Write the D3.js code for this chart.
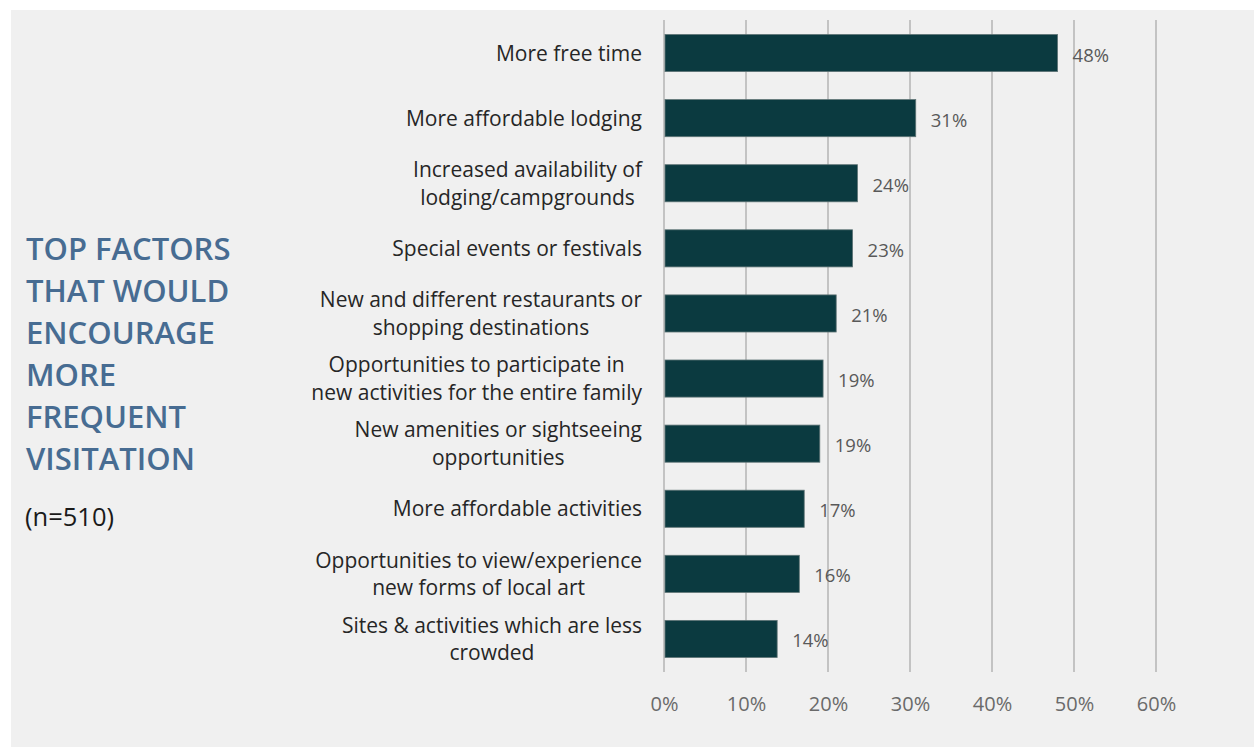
<!DOCTYPE html>
<html>
<head>
<meta charset="utf-8">
<script src="https://cdn.jsdelivr.net/npm/d3@7"></script>
<style>
  html, body { margin: 0; padding: 0; background: #ffffff; }
  svg { display: block; }
</style>
</head>
<body>
<svg id="chart" width="1254" height="747"></svg>
<script>
// ---- data ----
const categories = [
  ["More free time"],
  ["More affordable lodging"],
  ["Increased availability of", "lodging/campgrounds"],
  ["Special events or festivals"],
  ["New and different restaurants or", "shopping destinations"],
  ["Opportunities to participate in", "new activities for the entire family"],
  ["New amenities or sightseeing", "opportunities"],
  ["More affordable activities"],
  ["Opportunities to view/experience", "new forms of local art"],
  ["Sites & activities which are less", "crowded"]
];
const values = [48.0, 30.7, 23.6, 23.0, 21.0, 19.4, 19.0, 17.1, 16.5, 13.8];
const valueLabels = ["48%", "31%", "24%", "23%", "21%", "19%", "19%", "17%", "16%", "14%"];
const xTicks = [0, 10, 20, 30, 40, 50, 60];
const titleLines = ["TOP FACTORS", "THAT WOULD", "ENCOURAGE", "MORE", "FREQUENT", "VISITATION"];
const sampleNote = "(n=510)";

// ---- layout ----
const W = 1254, H = 747;
const svg = d3.select("#chart");
const font = "'Open Sans', 'Liberation Sans', sans-serif";

svg.append("rect").attr("x", 11).attr("y", 10).attr("width", W - 11).attr("height", H - 10)
  .attr("fill", "#f0f0f0");

const x = d3.scaleLinear().domain([0, 60]).range([664, 1156]);
const y = d3.scaleBand().domain(d3.range(categories.length)).range([20.5, 671.5])
  .paddingInner(0.43).paddingOuter(0.215);

// gridlines
svg.append("g").selectAll("line").data(xTicks).join("line")
  .attr("x1", d => x(d)).attr("x2", d => x(d))
  .attr("y1", 20).attr("y2", 672)
  .attr("stroke", "#c3c3c3").attr("stroke-width", 2);

// x axis labels
const xAxis = d3.axisBottom(x).tickValues(xTicks).tickFormat(d => d + "%").tickSize(0).tickPadding(0);
const gx = svg.append("g").attr("transform", "translate(0,690)").call(xAxis);
gx.select(".domain").remove();
gx.selectAll("text").attr("font-family", font).attr("font-size", 20)
  .attr("fill", "#6a6a6a").attr("dy", 0).attr("y", 20.5);

// bars
svg.append("g").selectAll("rect").data(values).join("rect")
  .attr("x", x(0) + 1)
  .attr("y", (d, i) => y(i))
  .attr("width", d => x(d) - x(0) - 1)
  .attr("height", y.bandwidth())
  .attr("fill", "#0b3a40")
  .attr("stroke", "#5f7476").attr("stroke-width", 0.8);

// value labels
svg.append("g").selectAll("text").data(values).join("text")
  .attr("x", d => x(d) + 15)
  .attr("y", (d, i) => y(i) + y.bandwidth() / 2 + 8.5)
  .attr("font-family", font).attr("font-size", 18.5)
  .attr("fill", "#595959")
  .text((d, i) => valueLabels[i]);

// category labels: block right-aligned, lines centered within block
const labelRight = 642;
const lineGap = 27.5;
const gl = svg.append("g");
categories.forEach((lines, i) => {
  const cy = y(i) + y.bandwidth() / 2;
  const texts = lines.map((ln, k) => gl.append("text")
    .attr("font-family", font).attr("font-size", 21).attr("fill", "#262626")
    .attr("text-anchor", "middle")
    .attr("y", cy + 7.5 + (k - (lines.length - 1) / 2) * lineGap)
    .text(ln));
  const maxW = d3.max(texts, t => t.node().getComputedTextLength());
  texts.forEach(t => t.attr("x", labelRight - maxW / 2));
});

// title block
const gt = svg.append("g");
titleLines.forEach((t, i) => {
  gt.append("text").attr("x", 26).attr("y", 260 + i * 42)
    .attr("font-family", font).attr("font-size", 31).attr("font-weight", 600)
    .attr("fill", "#476c92").text(t);
});
gt.append("text").attr("x", 25).attr("y", 526)
  .attr("font-family", font).attr("font-size", 25.5)
  .attr("fill", "#1a1a1a").text(sampleNote);
</script>
</body>
</html>
